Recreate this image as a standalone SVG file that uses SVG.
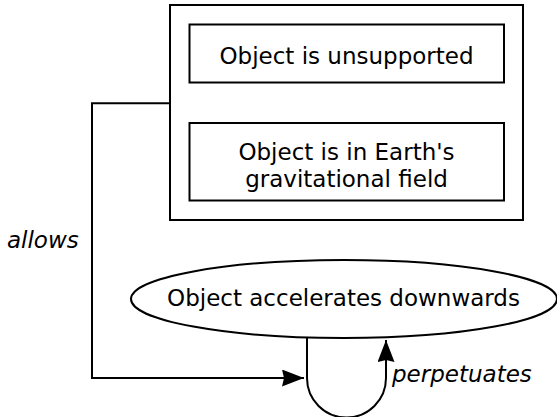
<svg xmlns="http://www.w3.org/2000/svg" width="557" height="417" viewBox="0 0 557 417">
<style>
.box{fill:#fff;stroke:#000;stroke-width:2}
.t{font-family:"DejaVu Sans",sans-serif;font-size:23px;fill:#000;text-anchor:middle}
.lbl{font-family:"DejaVu Sans",sans-serif;font-size:23px;font-style:italic;fill:#000}
.conn{fill:none;stroke:#000;stroke-width:2}
</style>
<defs>
<marker id="arr" viewBox="0 0 22 17" refX="22" refY="8.5" markerWidth="22" markerHeight="17" orient="auto" markerUnits="userSpaceOnUse">
<path d="M0,0 L22,8.5 L0,17 L2,8.5 z" fill="#000"/>
</marker>
</defs>
<rect width="557" height="417" fill="#fff"/>
<g id="group">
<rect class="box" x="170" y="5" width="353" height="215"/>
</g>
<g id="unsupported">
<rect class="box" x="189.5" y="24.5" width="314.5" height="58"/>
<text class="t" x="346.5" y="64">Object is unsupported</text>
</g>
<g id="gravity">
<rect class="box" x="189.5" y="123" width="314.5" height="77.5"/>
<text class="t" x="346.5" y="160">Object is in Earth's</text>
<text class="t" x="346.5" y="186.5">gravitational field</text>
</g>
<g id="accelerates">
<ellipse class="box" cx="344" cy="299" rx="213" ry="39"/>
<text class="t" x="343.5" y="305.5">Object accelerates downwards</text>
</g>
<g id="connectors">
<path class="conn" d="M170,103.3 H92 V378 H304" marker-end="url(#arr)"/>
<text class="lbl" x="7" y="247.7">allows</text>
<path class="conn" d="M307,337.5 V378 A39.5,39.5 0 0 0 386,378 V340" marker-end="url(#arr)"/>
<text class="lbl" x="392" y="381.7">perpetuates</text>
</g>
</svg>
